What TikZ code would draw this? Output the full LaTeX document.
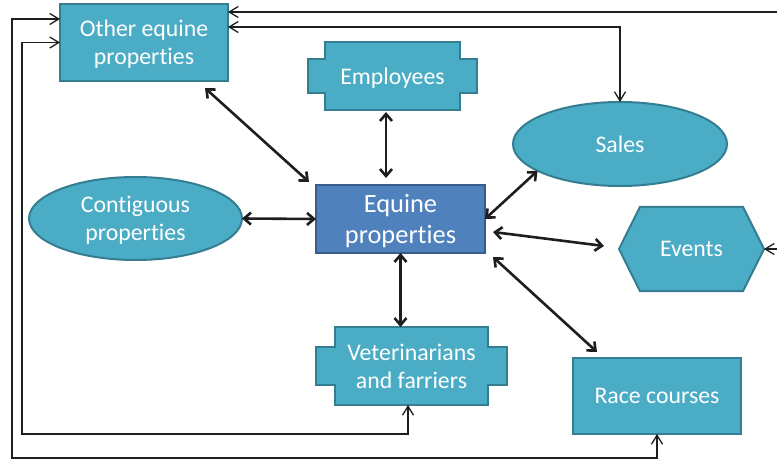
\documentclass[tikz,border=0pt]{standalone}
\usepackage{fontspec}
\setmainfont{Carlito}[Ligatures=NoCommon]
\usetikzlibrary{positioning,shapes.geometric,shapes.symbols,arrows.meta,backgrounds}
\definecolor{tealfill}{RGB}{75,172,198}
\definecolor{tealline}{RGB}{53,125,145}
\definecolor{bluefill}{RGB}{79,129,189}
\definecolor{blueline}{RGB}{56,93,138}
\definecolor{wire}{RGB}{30,30,30}
% #1 node, #2 tab depth, #3 tab inset from top and bottom
\newcommand{\tabframe}[3]{%
    \filldraw[fill=tealfill,draw=tealline,line width=1pt]
        (#1.north west) -- (#1.north east) -- ([shift={(0,#3)}]#1.north east)
        -- ([shift={(#2,#3)}]#1.north east) -- ([shift={(#2,-#3)}]#1.south east)
        -- ([shift={(0,-#3)}]#1.south east) -- (#1.south east) -- (#1.south west)
        -- ([shift={(0,-#3)}]#1.south west) -- ([shift={(-#2,-#3)}]#1.south west)
        -- ([shift={(-#2,#3)}]#1.north west) -- ([shift={(0,#3)}]#1.north west) -- cycle;
}
\begin{document}
\begin{tikzpicture}[
                x=0.5pt,y=-0.5pt,
                every node/.style={text=white,align=center,outer sep=0pt,text depth=0pt,font=\fontsize{11.9}{14}\selectfont},
                box/.style={rectangle,fill=tealfill,draw=tealline,line width=1pt},
                oval/.style={ellipse,fill=tealfill,draw=tealline,line width=1pt,inner sep=1pt},
                hexa/.style={signal,signal to=west and east,signal pointer angle=127,fill=tealfill,draw=tealline,line width=1pt},
                hub/.style={rectangle,fill=bluefill,draw=blueline,line width=1pt,font=\fontsize{13.2}{15.5}\selectfont},
                tabbed/.style={rectangle,inner sep=0pt},
                link/.style={wire,line width=1.3pt,{Straight Barb[length=3.5pt,width=6pt]}-{Straight Barb[length=3.5pt,width=6pt]}},
                feed/.style={wire,line width=0.65pt,{Straight Barb[length=4.5pt,width=5.5pt]}-{Straight Barb[length=4.5pt,width=5.5pt]}}
            ]
                \useasboundingbox (0,0) rectangle (777,460);
                \clip (0,0) rectangle (777,460);
                \node [hub,minimum width=84.5pt,minimum height=34pt] (equine) at (400.5,219) {Equine\\properties};
                \node [box,minimum width=84pt,minimum height=38.5pt] (other) at (144,42.5) {Other equine\\properties};
                \node [tabbed,minimum width=67.5pt,minimum height=34pt] (staff) at (392.5,76) {Employees};
                \node [oval,minimum width=107pt,minimum height=42pt] (sales) at (620,144) {Sales};
                \node [oval,minimum width=106.5pt,minimum height=41.5pt] (contig) at (135.5,218.5) {Contiguous\\properties};
                \node [hexa,minimum width=72.5pt,minimum height=42pt] (events) at (691.5,249) {Events};
                \node [tabbed,minimum width=76.5pt,minimum height=39pt] (vets) at (411.5,366) {Veterinarians\\and farriers};
                \node [box,minimum width=84pt,minimum height=38pt] (race) at (657,396) {Race courses};
                \begin{scope}[on background layer]
                    \tabframe{staff}{17}{17}
                    \tabframe{vets}{19}{20}
                \end{scope}
                \draw[link] ([shift={(-23,7)}]other.south east) -- ([shift={(-7,-3)}]equine.north west);
                \draw[link] ([shift={(-6.5,2)}]staff.south) -- ([shift={(-6.5,-7)}]staff.south |- equine.north);
                \draw[link] (equine.east) -- (sales.198);
                \draw[link] (contig.east) -- (equine.west);
                \draw[link] ([shift={(8,13)}]equine.east) -- ([shift={(-15,-3)}]events.west);
                \draw[link] ([shift={(8,4)}]equine.south east) -- ([shift={(24,-6)}]race.north west);
                \draw[link] (equine.south) -- (equine.south |- vets.north);
                \coordinate (rim) at (790,0);
                \coordinate (outer) at (12,458);
                \coordinate (inner) at (22,434);
                \draw[feed] ([shift={(0,23)}]other.north east) -| (sales.north);
                \draw[feed] ([shift={(0,8)}]other.north east) -- ([shift={(0,8)}]other.north east -| rim) -- (rim |- events.east) -- (events.east);
                \draw[feed] (race.south) -- (race.south |- outer) -- (outer) |- ([shift={(0,-23.5)}]other.west);
                \draw[feed] ([shift={(-3.5,0)}]vets.south) -- ([shift={(-3.5,0)}]vets.south |- inner) -- (inner) |- (other.west);
            \end{tikzpicture}
\end{document}
